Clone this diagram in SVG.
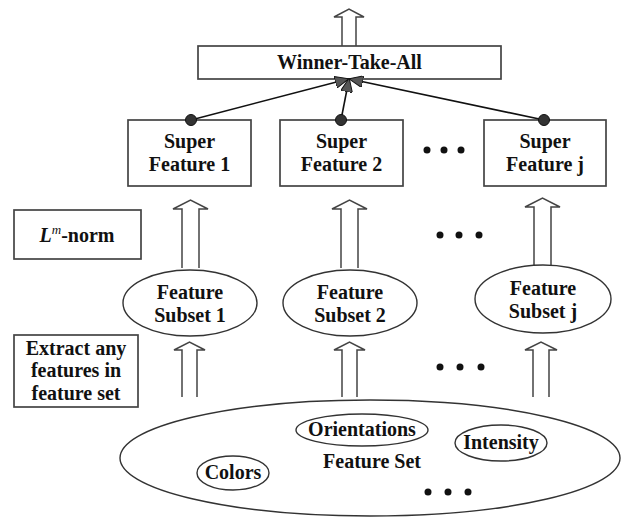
<svg xmlns="http://www.w3.org/2000/svg" width="635" height="517" viewBox="0 0 635 517">
<defs>
<style>
.box{fill:#fff;stroke:#444;stroke-width:1.7}
.ell{fill:#fff;stroke:#333;stroke-width:1.4}
.harrow{fill:#fff;stroke:#444;stroke-width:1.5;stroke-linejoin:miter}
.t{font-family:"Liberation Serif","Times New Roman",serif;font-weight:bold;font-size:20px;fill:#111;text-anchor:middle}
.dot{fill:#111}
.conn{stroke:#111;stroke-width:1.6;fill:none;marker-end:url(#ah)}
.src{fill:#333;stroke:#111;stroke-width:1}
</style>
<marker id="ah" viewBox="0 0 14 12" refX="13" refY="6" markerWidth="14" markerHeight="12" markerUnits="userSpaceOnUse" orient="auto">
<path d="M0,0 L14,6 L0,12 Z" fill="#555" stroke="#111" stroke-width="1"/>
</marker>
</defs>

<!-- Output arrow -->
<g id="out-arrow">
<path class="harrow" d="M342,46 V17 H334 L349,9 L364,17 H356 V46"/>
</g>

<g id="wta">
<rect class="box" x="198" y="46" width="303" height="33"/>
<text class="t" x="349.5" y="69">Winner-Take-All</text>
</g>

<g id="sf1">
<rect class="box" x="128" y="120" width="123" height="66"/>
<text class="t" x="189.5" y="148">Super</text>
<text class="t" x="189.5" y="171">Feature 1</text>
</g>
<g id="sf2">
<rect class="box" x="280" y="120" width="123" height="66"/>
<text class="t" x="341.5" y="148">Super</text>
<text class="t" x="341.5" y="171">Feature 2</text>
</g>
<g id="sfj">
<rect class="box" x="484" y="120" width="122" height="66"/>
<text class="t" x="545" y="148">Super</text>
<text class="t" x="545" y="171">Feature j</text>
</g>

<g id="connectors">
<line class="conn" x1="191" y1="120" x2="348" y2="79"/>
<line class="conn" x1="341" y1="120" x2="349" y2="79"/>
<line class="conn" x1="544" y1="120" x2="350" y2="79"/>
<circle class="src" cx="191" cy="120" r="5.5"/>
<circle class="src" cx="341" cy="120" r="5.5"/>
<circle class="src" cx="544" cy="120" r="5.5"/>
</g>

<g id="dots-top">
<circle class="dot" cx="427" cy="150" r="3.5"/>
<circle class="dot" cx="444" cy="150" r="3.5"/>
<circle class="dot" cx="461" cy="150" r="3.5"/>
</g>

<g id="lmnorm">
<rect class="box" x="14" y="210" width="127" height="49"/>
<text class="t" x="77" y="242"><tspan font-style="italic">L</tspan><tspan font-style="italic" font-weight="normal" font-size="13" dy="-8">m</tspan><tspan dy="8">-norm</tspan></text>
</g>

<g id="up-arrows">
<path class="harrow" d="M182,268 V209 H173 L190.5,200 L208,209 H199 V268"/>
<path class="harrow" d="M341,268 V209 H332 L349.5,200 L367,209 H358 V268"/>
<path class="harrow" d="M534,265 V207 H525 L542.5,198 L560,207 H551 V265"/>
</g>

<g id="dots-mid">
<circle class="dot" cx="440" cy="235" r="3.5"/>
<circle class="dot" cx="459" cy="235" r="3.5"/>
<circle class="dot" cx="479" cy="235" r="3.5"/>
</g>

<g id="fs1">
<ellipse class="ell" cx="190" cy="303" rx="67" ry="33"/>
<text class="t" x="190" y="299">Feature</text>
<text class="t" x="190" y="322">Subset 1</text>
</g>
<g id="fs2">
<ellipse class="ell" cx="350" cy="303" rx="67" ry="33"/>
<text class="t" x="350" y="299">Feature</text>
<text class="t" x="350" y="322">Subset 2</text>
</g>
<g id="fsj">
<ellipse class="ell" cx="543" cy="299" rx="68" ry="34"/>
<text class="t" x="543" y="295">Feature</text>
<text class="t" x="543" y="318">Subset j</text>
</g>

<g id="extract">
<rect class="box" x="14" y="335" width="124" height="72"/>
<text class="t" x="76" y="355">Extract any</text>
<text class="t" x="76" y="377">features in</text>
<text class="t" x="76" y="400">feature set</text>
</g>

<g id="low-arrows">
<path class="harrow" d="M182,397 V350 H174 L189.5,342 L205,350 H197 V397"/>
<path class="harrow" d="M342,397 V350 H334 L349.5,342 L365,350 H357 V397"/>
<path class="harrow" d="M533,397 V350 H525 L541,342 L557,350 H549 V397"/>
</g>

<g id="dots-low">
<circle class="dot" cx="440" cy="367" r="3.5"/>
<circle class="dot" cx="460" cy="367" r="3.5"/>
<circle class="dot" cx="481" cy="367" r="3.5"/>
</g>

<g id="featureset">
<ellipse class="ell" cx="370" cy="458" rx="250" ry="58"/>
<text class="t" x="372" y="468">Feature Set</text>
</g>
<g id="orientations">
<ellipse class="ell" cx="362" cy="430" rx="66" ry="16"/>
<text class="t" x="362" y="436">Orientations</text>
</g>
<g id="intensity">
<ellipse class="ell" cx="501" cy="443" rx="46" ry="18"/>
<text class="t" x="501" y="449">Intensity</text>
</g>
<g id="colors">
<ellipse class="ell" cx="233" cy="473" rx="36" ry="17"/>
<text class="t" x="233" y="479">Colors</text>
</g>
<g id="dots-bottom">
<circle class="dot" cx="428" cy="492" r="3.5"/>
<circle class="dot" cx="448" cy="492" r="3.5"/>
<circle class="dot" cx="468" cy="492" r="3.5"/>
</g>
</svg>
